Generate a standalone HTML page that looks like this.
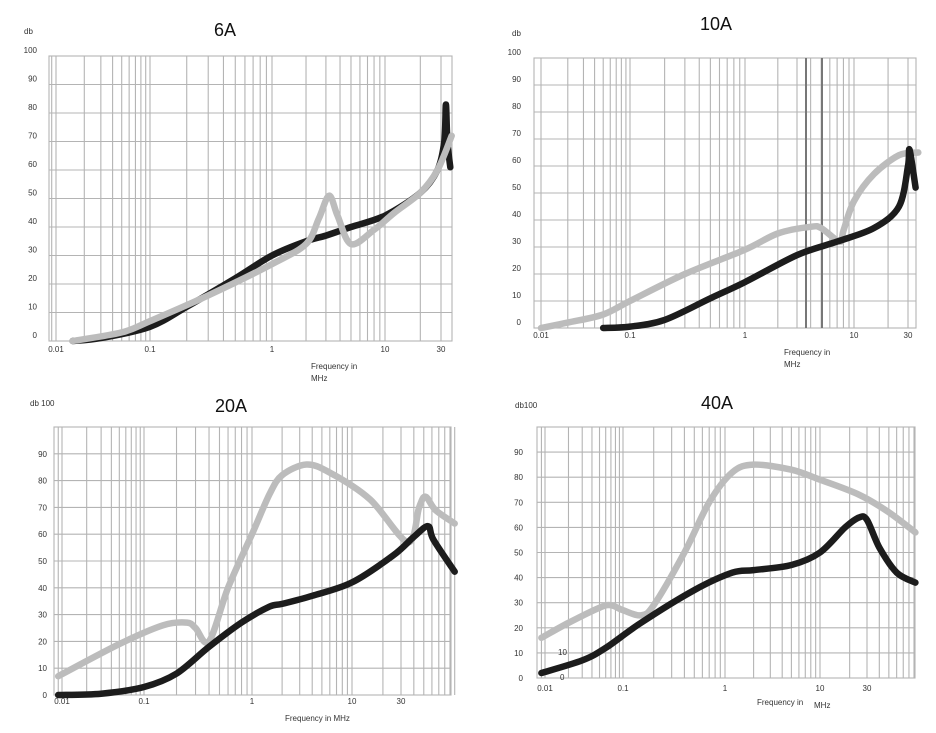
<!DOCTYPE html>
<html><head><meta charset="utf-8"><style>
html,body{margin:0;padding:0;background:#fff;}
svg{display:block;font-family:"Liberation Sans",sans-serif;}
.tk{font-size:8px;fill:#333;}
.ti{font-size:18px;fill:#111;}
</style></head><body>
<svg id="c" width="936" height="733" viewBox="0 0 936 733"></svg>
<script>
// ---- data (frequency MHz, attenuation dB) ----
const f6Black=[0.015,0.03,0.1,0.2,0.5,1,2,3,5,10,20,28,32,33,34,36];
const v6Black=[0,1,5,12,22,30,35,37,40,44,52,60,70,83,70,61];
const f6Gray=[0.015,0.05,0.1,0.3,1,2,2.6,3.2,3.8,5,8,12,20,28,37];
const v6Gray=[0,3,7,16,27,34,43,51,44,34,39,45,52,60,72];
const f10Gray=[0.01,0.02,0.05,0.1,0.3,1,2,4,5,7.4,8,10,15,25,37];
const v10Gray=[0,2,5,10,20,29,35,37.5,37,32,36,47,57,64,65];
const f10Black=[0.05,0.1,0.2,0.5,1,3,7,15,25,30,31,35];
const v10Black=[0,0.5,3,11,17,27,32,37,45,60,66,52];
const f20Gray=[0.009,0.05,0.15,0.25,0.3,0.4,0.6,1,1.5,2,3.5,6,15,35,45,52,65,100];
const v20Gray=[7,19,26,27,25,20,40,60,75,82,86,83,73,57,70,74,69,64];
const f20Black=[0.009,0.03,0.1,0.2,0.4,0.8,1.5,2,4,10,25,40,55,62,100];
const v20Black=[0,0.5,3,8,18,27,33,34,37,42,52,59,63,58,46];
const f40Gray=[0.009,0.02,0.05,0.07,0.1,0.15,0.2,0.4,0.7,1.2,2,5,10,25,50,93];
const v40Gray=[16,22,28,29,27,25,29,50,70,82,85,83,79,73,66,58];
const f40Black=[0.009,0.03,0.06,0.15,0.5,1.2,2,5,10,18,25,30,40,60,93];
const v40Black=[2,7,12,22,35,42,43,45,50,60,64,63,52,42,38];
const yTicks=[0,10,20,30,40,50,60,70,80,90,100];
const xTickLabels=["0.01","0.1","1","10","30"];
const xTickVals=[0.01,0.1,1,10,30];

const charts=[
 {id:"6a",title:"6A",tx:225,ty:36,box:[49,56,452,341],fmin:0.0085,fmax:37,anch:[[0.01,56],[0.1,150],[1,272],[10,385],[30,441]],
  ylx:37,yoff:-3,xly:352,ylab:"db",ylabx:24,ylaby:34,skip100:false,
  xt:[["Frequency  in",311,369],["MHz",311,381]],series:[[f6Black,v6Black,"#1c1c1c"],[f6Gray,v6Gray,"#bcbcbc"]]},
 {id:"10a",title:"10A",tx:716,ty:30,box:[534,58,916,328],fmin:0.0092,fmax:36,anch:[[0.01,541],[0.1,630],[1,745],[10,854],[30,908]],
  ylx:521,yoff:-3,xly:338,ylab:"db",ylabx:512,ylaby:36,skip100:false,
  xt:[["Frequency  in",784,355],["MHz",784,367]],series:[[f10Gray,v10Gray,"#bcbcbc"],[f10Black,v10Black,"#1c1c1c"]],dark:[806,822]},
 {id:"20a",title:"20A",tx:231,ty:412,box:[54,427,451,695],fmin:0.0088,fmax:100,anch:[[0.01,62],[0.1,144],[1,252],[10,352],[30,401]],
  ylx:47,yoff:3,xly:704,ylab:"db 100",ylabx:30,ylaby:406,skip100:true,
  xt:[["Frequency  in  MHz",285,721]],series:[[f20Gray,v20Gray,"#bcbcbc"],[f20Black,v20Black,"#1c1c1c"]]},
 {id:"40a",title:"40A",tx:717,ty:409,box:[537,427,915,678],fmin:0.0088,fmax:93,anch:[[0.01,545],[0.1,623],[1,725],[10,820],[30,867]],
  ylx:523,yoff:3,xly:691,ylab:"db100",ylabx:515,ylaby:408,skip100:true,
  xt:[["Frequency  in",757,705],["MHz",814,708]],series:[[f40Gray,v40Gray,"#bcbcbc"],[f40Black,v40Black,"#1c1c1c"]]}
];
const NS="http://www.w3.org/2000/svg";
const svg=document.getElementById("c");
function mk(t,a,p){const e=document.createElementNS(NS,t);for(const k in a)e.setAttribute(k,a[k]);(p||svg).appendChild(e);return e;}
function xmap(c,f){const L=Math.log10(f),A=c.anch;let i=0;
 if(L<=Math.log10(A[0][0]))i=0;else if(L>=Math.log10(A[A.length-1][0]))i=A.length-2;
 else{for(i=0;i<A.length-1;i++){if(L<=Math.log10(A[i+1][0]))break;}}
 const l0=Math.log10(A[i][0]),l1=Math.log10(A[i+1][0]);return A[i][1]+(L-l0)/(l1-l0)*(A[i+1][1]-A[i][1]);}
function ymap(c,v){const b=c.box;return b[3]-v/100*(b[3]-b[1]);}
function smooth(P){let d="M"+P[0][0].toFixed(1)+","+P[0][1].toFixed(1);const k=0.16;
 for(let i=0;i<P.length-1;i++){const p0=P[Math.max(0,i-1)],p1=P[i],p2=P[i+1],p3=P[Math.min(P.length-1,i+2)];
  const c1=[p1[0]+(p2[0]-p0[0])*k,p1[1]+(p2[1]-p0[1])*k],c2=[p2[0]-(p3[0]-p1[0])*k,p2[1]-(p3[1]-p1[1])*k];
  d+=" C"+c1.map(v=>v.toFixed(1)).join(",")+" "+c2.map(v=>v.toFixed(1)).join(",")+" "+p2[0].toFixed(1)+","+p2[1].toFixed(1);}
 return d;}
charts.forEach(c=>{
 const g=mk("g",{});
 
 
 const b=c.box;
 const t=mk("text",{x:c.tx,y:c.ty,"text-anchor":"middle",class:"ti"},g);t.textContent=c.title;
 
 
 const grid=mk("g",{stroke:"#b4b4b4","stroke-width":"1.1",fill:"none"},g);
 
 
 for(let d=-3;d<=2;d++)for(let m=1;m<=9;m++){const f=m*Math.pow(10,d);if(f<c.fmin||f>c.fmax)continue;const x=xmap(c,f);
  mk("line",{x1:x,x2:x,y1:b[1],y2:b[3]},grid);}
 yTicks.forEach(v=>{const y=ymap(c,v);mk("line",{x1:b[0],x2:b[2],y1:y,y2:y},grid);});
 mk("rect",{x:b[0],y:b[1],width:b[2]-b[0],height:b[3]-b[1]},grid);
 if(c.dark)c.dark.forEach(x=>{const l=mk("line",{x1:x,x2:x,y1:b[1],y2:b[3],stroke:"#777","stroke-width":"2"},g);
  
  });
 yTicks.forEach(v=>{if(c.skip100&&v===100)return;const e=mk("text",{x:c.ylx,y:ymap(c,v)+c.yoff,"text-anchor":"end",class:"tk"},g);e.textContent=v;
  
  });
 const yl=mk("text",{x:c.ylabx,y:c.ylaby,class:"tk"},g);yl.textContent=c.ylab;
 
 
 xTickVals.forEach((f,i)=>{const e=mk("text",{x:xmap(c,f),y:c.xly,"text-anchor":"middle",class:"tk"},g);e.textContent=xTickLabels[i];
  
  });
 c.xt.forEach(a=>{const e=mk("text",{x:a[1],y:a[2],class:"tk"},g);e.textContent=a[0];
  
  });
 c.series.forEach(s=>{const P=s[0].map((f,i)=>[xmap(c,f),ymap(c,s[1][i])]);
  const p=mk("path",{d:smooth(P),fill:"none",stroke:s[2],"stroke-width":"6.5","stroke-linejoin":"round","stroke-linecap":"round"},g);
  
  });
 if(c.id==="40a"){const a=mk("text",{x:558,y:655,class:"tk"},g);a.textContent="10";
  
  
  const z=mk("text",{x:560,y:680,class:"tk"},g);z.textContent="0";
  
  }
});
</script>
</body></html>
